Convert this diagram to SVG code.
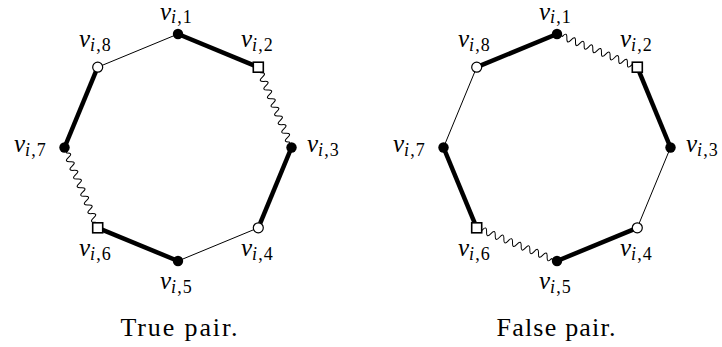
<svg xmlns="http://www.w3.org/2000/svg" xmlns:xlink="http://www.w3.org/1999/xlink" width="722" height="347" viewBox="0 0 722 347">
<style>
.thick{stroke:#000;stroke-width:4.5;fill:none}
.thin{stroke:#000;stroke-width:1;fill:none}
.wave{stroke:#000;stroke-width:1;fill:none}
.fillc{fill:#000}
.open{fill:#fff;stroke:#000;stroke-width:1.2}
.sq{fill:#fff;stroke:#000;stroke-width:1.6}
text{font-family:'Liberation Serif','DejaVu Serif',serif;fill:#000}
.lbl{font-size:25px;font-style:italic}
.sub{font-size:18px;letter-spacing:1px}
.up{font-style:normal}
.cap{font-size:26px;text-anchor:middle}
</style>
<defs>
<path id="w" d="M0,0 h6 q2.34,-6.5 4.68,0 t4.68,0 t4.68,0 t4.68,0 t4.68,0 t4.68,0 t4.68,0 t4.68,0 t4.68,0 t4.68,0 t4.68,0 t4.68,0 t4.68,0 t4.68,0 t4.68,0 t4.68,0 h6"/>
</defs>
<g id="connectors">
<line class="thick" x1="178" y1="34" x2="258.3" y2="67.2"/>
<use class="wave" xlink:href="#w" transform="translate(258.3,67.2) rotate(67.5)"/>
<line class="thick" x1="291.5" y1="147.5" x2="258.3" y2="227.8"/>
<line class="thin" x1="258.3" y1="227.8" x2="178" y2="261"/>
<line class="thick" x1="178" y1="261" x2="97.7" y2="227.8"/>
<use class="wave" xlink:href="#w" transform="translate(97.7,227.8) rotate(-112.5)"/>
<line class="thick" x1="64.5" y1="147.5" x2="97.7" y2="67.2"/>
<line class="thin" x1="97.7" y1="67.2" x2="178" y2="34"/>
<use class="wave" xlink:href="#w" transform="translate(557,34) rotate(22.5)"/>
<line class="thick" x1="637.3" y1="67.2" x2="670.5" y2="147.5"/>
<line class="thin" x1="670.5" y1="147.5" x2="637.3" y2="227.8"/>
<line class="thick" x1="637.3" y1="227.8" x2="557" y2="261"/>
<use class="wave" xlink:href="#w" transform="translate(557,261) rotate(202.5)"/>
<line class="thick" x1="476.7" y1="227.8" x2="443.5" y2="147.5"/>
<line class="thin" x1="443.5" y1="147.5" x2="476.7" y2="67.2"/>
<line class="thick" x1="476.7" y1="67.2" x2="557" y2="34"/>
</g>
<g id="true-pair">
<g id="t1"><circle class="fillc" cx="178" cy="34" r="5.2"/><text class="lbl" x="160" y="20">v<tspan class="sub" dy="3">i</tspan><tspan class="sub up">,1</tspan></text></g>
<g id="t2"><rect class="sq" x="253.3" y="62.2" width="10" height="10"/><text class="lbl" x="241" y="47">v<tspan class="sub" dy="4">i</tspan><tspan class="sub up">,2</tspan></text></g>
<g id="t3"><circle class="fillc" cx="291.5" cy="147.5" r="5.2"/><text class="lbl" x="307" y="152">v<tspan class="sub" dy="4">i</tspan><tspan class="sub up">,3</tspan></text></g>
<g id="t4"><circle class="open" cx="258.3" cy="227.8" r="5"/><text class="lbl" x="241" y="256">v<tspan class="sub" dy="4">i</tspan><tspan class="sub up">,4</tspan></text></g>
<g id="t5"><circle class="fillc" cx="178" cy="261" r="5.2"/><text class="lbl" x="160" y="289">v<tspan class="sub" dy="4">i</tspan><tspan class="sub up">,5</tspan></text></g>
<g id="t6"><rect class="sq" x="92.7" y="222.8" width="10" height="10"/><text class="lbl" x="79" y="256">v<tspan class="sub" dy="4">i</tspan><tspan class="sub up">,6</tspan></text></g>
<g id="t7"><circle class="fillc" cx="64.5" cy="147.5" r="5.2"/><text class="lbl" x="14" y="152">v<tspan class="sub" dy="4">i</tspan><tspan class="sub up">,7</tspan></text></g>
<g id="t8"><circle class="open" cx="97.7" cy="67.2" r="5"/><text class="lbl" x="79" y="47">v<tspan class="sub" dy="4">i</tspan><tspan class="sub up">,8</tspan></text></g>
<text class="cap" x="179" y="336" textLength="117" lengthAdjust="spacing">True pair.</text>
</g>
<g id="false-pair">
<g id="f1"><circle class="fillc" cx="557" cy="34" r="5.2"/><text class="lbl" x="539" y="20">v<tspan class="sub" dy="3">i</tspan><tspan class="sub up">,1</tspan></text></g>
<g id="f2"><rect class="sq" x="632.3" y="62.2" width="10" height="10"/><text class="lbl" x="620" y="47">v<tspan class="sub" dy="4">i</tspan><tspan class="sub up">,2</tspan></text></g>
<g id="f3"><circle class="fillc" cx="670.5" cy="147.5" r="5.2"/><text class="lbl" x="686" y="152">v<tspan class="sub" dy="4">i</tspan><tspan class="sub up">,3</tspan></text></g>
<g id="f4"><circle class="open" cx="637.3" cy="227.8" r="5"/><text class="lbl" x="620" y="256">v<tspan class="sub" dy="4">i</tspan><tspan class="sub up">,4</tspan></text></g>
<g id="f5"><circle class="fillc" cx="557" cy="261" r="5.2"/><text class="lbl" x="539" y="289">v<tspan class="sub" dy="4">i</tspan><tspan class="sub up">,5</tspan></text></g>
<g id="f6"><rect class="sq" x="471.7" y="222.8" width="10" height="10"/><text class="lbl" x="458" y="256">v<tspan class="sub" dy="4">i</tspan><tspan class="sub up">,6</tspan></text></g>
<g id="f7"><circle class="fillc" cx="443.5" cy="147.5" r="5.2"/><text class="lbl" x="393" y="152">v<tspan class="sub" dy="4">i</tspan><tspan class="sub up">,7</tspan></text></g>
<g id="f8"><circle class="open" cx="476.7" cy="67.2" r="5"/><text class="lbl" x="458" y="47">v<tspan class="sub" dy="4">i</tspan><tspan class="sub up">,8</tspan></text></g>
<text class="cap" x="556" y="336" textLength="119" lengthAdjust="spacing">False pair.</text>
</g>
</svg>
